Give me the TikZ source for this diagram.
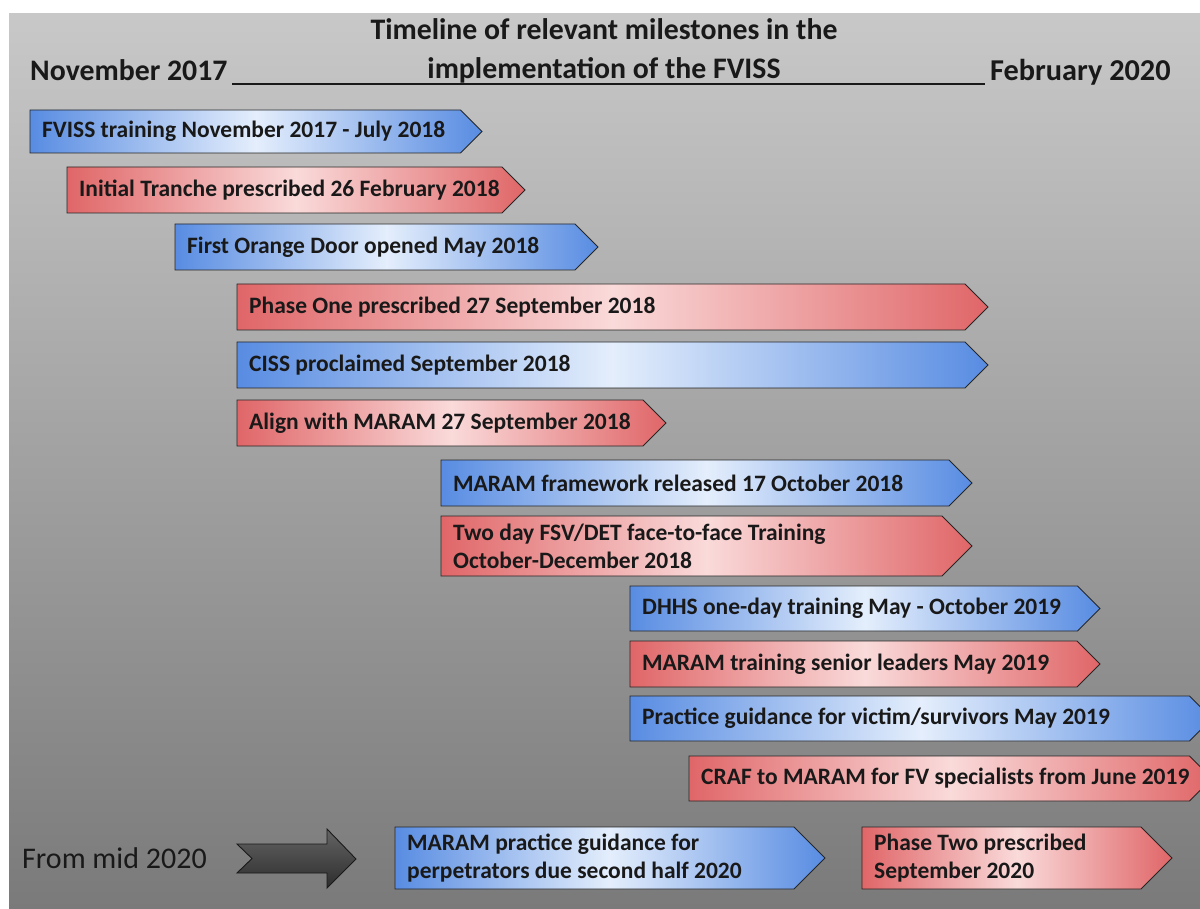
\documentclass[tikz,border=0pt]{standalone}
\usepackage{fontspec}
\setmainfont{Carlito}
\begin{document}
\definecolor{bgtop}{RGB}{200,200,200}
\definecolor{bgbot}{RGB}{122,122,122}
\definecolor{ablue}{RGB}{88,140,226}
\definecolor{abluel}{RGB}{228,238,252}
\definecolor{ared}{RGB}{224,102,104}
\definecolor{aredl}{RGB}{250,218,218}
\definecolor{darka}{RGB}{100,100,100}
\definecolor{darkb}{RGB}{45,45,45}
\newcommand{\milestone}[7]{%
  \path[#6] (#2,#3) -- ({#5-(#4-#3)/2},#3) -- (#5,{(#3+#4)/2}) -- ({#5-(#4-#3)/2},#4) -- (#2,#4) -- cycle;
  \node[mtext, anchor=west] (#1) at ({#2+10},{(#3+#4)/2}) {#7};
}
\begin{tikzpicture}[x=1pt,y=-1pt,
  bluearrow/.style={draw=black!85, line width=0.9pt, line join=miter, left color=ablue, right color=ablue, middle color=abluel},
  redarrow/.style={draw=black!85, line width=0.9pt, line join=miter, left color=ared, right color=ared, middle color=aredl},
  mtext/.style={font=\fontsize{23.5}{28}\selectfont\bfseries, text=black!90, align=left, inner sep=2pt},
  ttext/.style={font=\fontsize{29.8}{34}\selectfont\bfseries, text=black!90, inner sep=0pt, anchor=base}]
\useasboundingbox (0,0) rectangle (1200,909);
\fill[white] (0,0) rectangle (1200,909);
\shade[top color=bgtop, bottom color=bgbot] (9,14) rectangle (1200,909);
% title
\node[ttext] (t1) at (604,40) {Timeline of relevant milestones in the};
\node[ttext] (t2) at (604,79) {implementation of the FVISS};
\node[ttext, anchor=base west] (nov) at (30,81) {November 2017};
\node[ttext, anchor=base west, font=\fontsize{30.3}{34}\selectfont\bfseries] (feb) at (990,81) {February 2020};
\coordinate (ul1) at (232,84);
\coordinate (ul2) at (985,84);
\draw[line width=1.8pt, black!90] (ul1) -- (ul2);
% milestones
\milestone{m1}{30}{110}{153}{482}{bluearrow}{FVISS training November 2017 - July 2018}
\milestone{m2}{67}{167}{213}{525}{redarrow}{Initial Tranche prescribed 26 February 2018}
\milestone{m3}{175}{224}{270}{598}{bluearrow}{First Orange Door opened May 2018}
\milestone{m4}{237}{284}{330}{988}{redarrow}{Phase One prescribed 27 September 2018}
\milestone{m5}{237}{342}{388}{988}{bluearrow}{CISS proclaimed September 2018}
\milestone{m6}{237}{400}{446}{666}{redarrow}{Align with MARAM 27 September 2018}
\milestone{m7}{441}{460}{506}{972}{bluearrow}{MARAM framework released 17 October 2018}
\milestone{m8}{441}{516}{576}{972}{redarrow}{Two day FSV/DET face-to-face Training\\October-December 2018}
\milestone{m9}{630}{586}{631}{1100}{bluearrow}{DHHS one-day training May - October 2019}
\milestone{m10}{630}{641}{687}{1100}{redarrow}{MARAM training senior leaders May 2019}
\milestone{m11}{630}{696}{741}{1212}{bluearrow}{Practice guidance for victim/survivors May 2019}
\milestone{m12}{689}{756}{801}{1212}{redarrow}{CRAF to MARAM for FV specialists from June 2019}
\milestone{m13}{395}{827}{889}{825}{bluearrow}{MARAM practice guidance for\\perpetrators due second half 2020}
\milestone{m14}{862}{827}{889}{1172}{redarrow}{Phase Two prescribed\\September 2020}
% from mid 2020
\node[font=\fontsize{30}{34}\selectfont, text=black!90, anchor=west, inner sep=0pt] (mid) at (22,858) {From mid 2020};
\path[draw=black!90, line width=0.9pt, top color=darka, bottom color=darkb]
  (237,844) -- (327,844) -- (327,829) -- (356,859) -- (327,888) -- (327,873) -- (237,873) -- (252,858.5) -- cycle;
\end{tikzpicture}
\end{document}
